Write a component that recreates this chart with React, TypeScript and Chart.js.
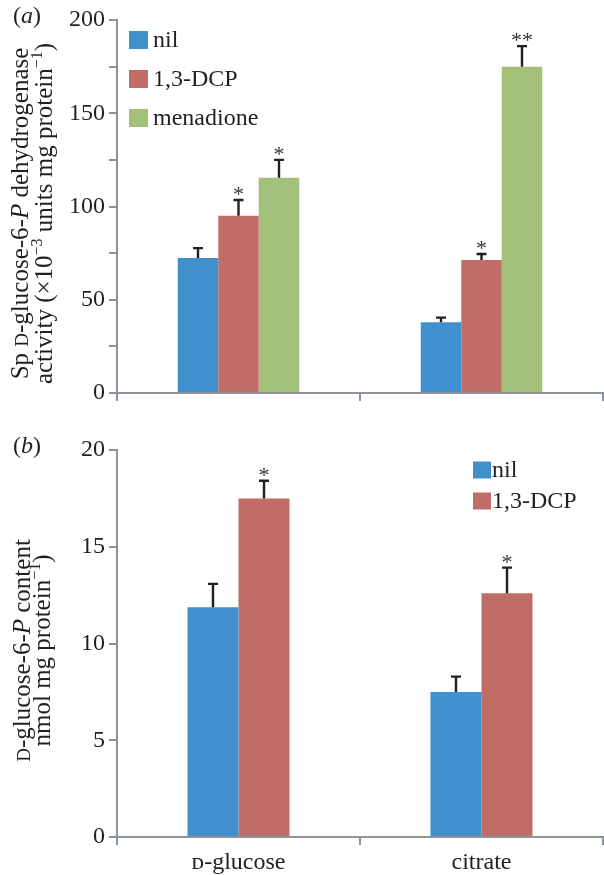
import React, { useEffect, useRef } from "react";
import { Chart, registerables } from "chart.js";

Chart.register(...registerables);

// ---------- data ----------
const categories = ["ᴅ-glucose", "citrate"];
const seriesA = ["nil", "1,3-DCP", "menadione"];
const seriesB = ["nil", "1,3-DCP"];

const nilA = [72.4, 38];
const nilErrA = [5.3, 2.4];
const nilStarsA = ["", ""];
const dcpA = [95, 71.3];
const dcpErrA = [8.5, 3.2];
const dcpStarsA = ["*", "*"];
const menA = [115.4, 175];
const menErrA = [9.6, 11];
const menStarsA = ["*", "**"];

const nilB = [11.87, 7.49];
const nilErrB = [1.21, 0.8];
const nilStarsB = ["", ""];
const dcpB = [17.5, 12.6];
const dcpErrB = [0.91, 1.32];
const dcpStarsB = ["*", "*"];

const yMaxA = 200;
const yStepA = 25;
const yLabelStepA = 50;
const yMaxB = 20;
const yStepB = 5;

// ---------- styles ----------
const BLUE = "#3f90cd";
const RED = "#c06d68";
const GREEN = "#a3c07a";
const AXIS = "#8c939b";
const INK = "#231f20";
const SERIF = '"Liberation Serif", "DejaVu Serif", serif';

type Seg = { t: string; s?: "i" | "sc" | "sup" };

function segFont(s: string | undefined, size: number) {
  if (s === "i") return `italic ${size}px ${SERIF}`;
  if (s === "sc") return `${Math.round(size * 0.76)}px ${SERIF}`;
  if (s === "sup") return `${Math.round(size * 0.62)}px ${SERIF}`;
  return `${size}px ${SERIF}`;
}

function drawRich(
  ctx: CanvasRenderingContext2D,
  segs: Seg[],
  x: number,
  y: number,
  size: number,
  align: "center" | "left"
) {
  const widths = segs.map((seg) => {
    ctx.font = segFont(seg.s, size);
    return ctx.measureText(seg.t).width;
  });
  const total = widths.reduce((a, b) => a + b, 0);
  let cx = align === "center" ? x - total / 2 : x;
  ctx.textAlign = "left";
  ctx.textBaseline = "alphabetic";
  segs.forEach((seg, i) => {
    ctx.font = segFont(seg.s, size);
    const dy = seg.s === "sup" ? -size * 0.4 : 0;
    ctx.fillText(seg.t, cx, y + dy);
    cx += widths[i];
  });
}

const titleA1: Seg[] = [
  { t: "Sp " },
  { t: "D", s: "sc" },
  { t: "-glucose-6-" },
  { t: "P", s: "i" },
  { t: " dehydrogenase" },
];
const titleA2: Seg[] = [
  { t: "activity (×10" },
  { t: "−3", s: "sup" },
  { t: " units mg protein" },
  { t: "−1", s: "sup" },
  { t: ")" },
];
const titleB1: Seg[] = [
  { t: "D", s: "sc" },
  { t: "-glucose-6-" },
  { t: "P", s: "i" },
  { t: " content" },
];
const titleB2: Seg[] = [
  { t: "nmol mg protein" },
  { t: "−1", s: "sup" },
  { t: ")" },
];

const errorBarsPlugin = {
  id: "errorBars",
  afterDatasetsDraw(chart: any) {
    const ctx: CanvasRenderingContext2D = chart.ctx;
    const y = chart.scales.y;
    chart.data.datasets.forEach((ds: any, i: number) => {
      const meta = chart.getDatasetMeta(i);
      meta.data.forEach((bar: any, j: number) => {
        const v = ds.data[j];
        const e = ds.errors[j];
        const top = y.getPixelForValue(v + e);
        ctx.save();
        ctx.strokeStyle = INK;
        ctx.lineWidth = 2.4;
        ctx.beginPath();
        ctx.moveTo(bar.x, bar.y);
        ctx.lineTo(bar.x, top);
        ctx.moveTo(bar.x - 5, top);
        ctx.lineTo(bar.x + 5, top);
        ctx.stroke();
        const s = ds.stars[j];
        if (s) {
          ctx.font = `22px ${SERIF}`;
          ctx.fillStyle = "#333";
          ctx.textAlign = "center";
          ctx.textBaseline = "alphabetic";
          ctx.fillText(s, bar.x, top + 1);
        }
        ctx.restore();
      });
    });
  },
};

function makeDecorPlugin(
  panel: string,
  line1: Seg[],
  line2: Seg[],
  base1: number,
  base2: number,
  legendBoxX: number,
  legendTextX: number,
  legendRows: number[],
  boxW: number,
  boxH: number
) {
  return {
    id: "decor" + panel,
    afterDraw(chart: any) {
      const ctx: CanvasRenderingContext2D = chart.ctx;
      const area = chart.chartArea;
      ctx.save();
      ctx.fillStyle = INK;
      // panel label
      drawRich(ctx, [{ t: "(" }, { t: panel, s: "i" }, { t: ")" }], 13, 23, 24, "left");
      // y title
      const cy = (area.top + area.bottom) / 2 + 7;
      ctx.save();
      ctx.translate(base1, cy);
      ctx.rotate(-Math.PI / 2);
      drawRich(ctx, line1, 0, 0, 25, "center");
      ctx.restore();
      ctx.save();
      ctx.translate(base2, cy);
      ctx.rotate(-Math.PI / 2);
      drawRich(ctx, line2, 0, 0, 25, "center");
      ctx.restore();
      // legend
      chart.data.datasets.forEach((ds: any, i: number) => {
        const yc = legendRows[i];
        ctx.fillStyle = ds.backgroundColor;
        ctx.fillRect(legendBoxX, yc - boxH / 2, boxW, boxH);
        ctx.fillStyle = INK;
        ctx.font = `24px ${SERIF}`;
        ctx.textAlign = "left";
        ctx.textBaseline = "middle";
        ctx.fillText(ds.label, legendTextX, yc + 1);
      });
      ctx.restore();
    },
  };
}

function baseOptions(
  yMax: number,
  yStep: number,
  labelStep: number,
  xHeight: number,
  showX: boolean,
  catPct: number
) {
  return {
    responsive: false,
    devicePixelRatio: 1,
    animation: false,
    events: [],
    layout: { padding: { left: 0, right: 1, top: 20, bottom: 0 } },
    datasets: { bar: { categoryPercentage: catPct, barPercentage: 1 } },
    plugins: { legend: { display: false }, tooltip: { enabled: false } },
    scales: {
      x: {
        type: "category",
        grid: {
          offset: true,
          drawOnChartArea: false,
          drawTicks: true,
          tickLength: 8,
          color: AXIS,
          lineWidth: 2,
        },
        border: { display: true, color: AXIS, width: 2 },
        ticks: {
          display: showX,
          color: INK,
          padding: 3,
          font: { family: SERIF, size: 24 },
        },
        afterFit: (s: any) => {
          s.height = xHeight;
        },
      },
      y: {
        min: 0,
        max: yMax,
        grid: {
          drawOnChartArea: false,
          drawTicks: true,
          tickLength: 8,
          color: AXIS,
          lineWidth: 2,
        },
        border: { display: true, color: AXIS, width: 2 },
        ticks: {
          stepSize: yStep,
          color: INK,
          padding: 4,
          font: { family: SERIF, size: 24 },
          callback: (v: any) => (Number(v) % labelStep === 0 ? String(v) : ""),
        },
        afterFit: (s: any) => {
          s.width = 117;
        },
      },
    },
  };
}

function PanelA() {
  const ref = useRef<HTMLCanvasElement>(null);
  useEffect(() => {
    const chart = new Chart(ref.current as HTMLCanvasElement, {
      type: "bar",
      data: {
        labels: categories,
        datasets: [
          { label: seriesA[0], data: nilA, errors: nilErrA, stars: nilStarsA, backgroundColor: BLUE, borderWidth: 0 } as any,
          { label: seriesA[1], data: dcpA, errors: dcpErrA, stars: dcpStarsA, backgroundColor: RED, borderWidth: 0 } as any,
          { label: seriesA[2], data: menA, errors: menErrA, stars: menStarsA, backgroundColor: GREEN, borderWidth: 0 } as any,
        ],
      },
      options: baseOptions(yMaxA, yStepA, yLabelStepA, 37, false, 0.5) as any,
      plugins: [
        errorBarsPlugin,
        makeDecorPlugin("a", titleA1, titleA2, 28, 52, 129, 153, [40, 79, 118], 19, 18),
      ],
    });
    return () => chart.destroy();
  }, []);
  return <canvas ref={ref} width={604} height={430} style={{ display: "block" }} />;
}

function PanelB() {
  const ref = useRef<HTMLCanvasElement>(null);
  useEffect(() => {
    const chart = new Chart(ref.current as HTMLCanvasElement, {
      type: "bar",
      data: {
        labels: categories,
        datasets: [
          { label: seriesB[0], data: nilB, errors: nilErrB, stars: nilStarsB, backgroundColor: BLUE, borderWidth: 0 } as any,
          { label: seriesB[1], data: dcpB, errors: dcpErrB, stars: dcpStarsB, backgroundColor: RED, borderWidth: 0 } as any,
        ],
      },
      options: baseOptions(yMaxB, yStepB, yStepB, 38, true, 0.42) as any,
      plugins: [
        errorBarsPlugin,
        makeDecorPlugin("b", titleB1, titleB2, 30, 50, 473, 492, [40, 71], 18, 17),
      ],
    });
    return () => chart.destroy();
  }, []);
  return <canvas ref={ref} width={604} height={445} style={{ display: "block" }} />;
}

export default function App() {
  return (
    <div
      style={{
        position: "absolute",
        left: 0,
        top: 0,
        width: 604,
        height: 875,
        background: "#fff",
      }}
    >
      <PanelA />
      <PanelB />
    </div>
  );
}
